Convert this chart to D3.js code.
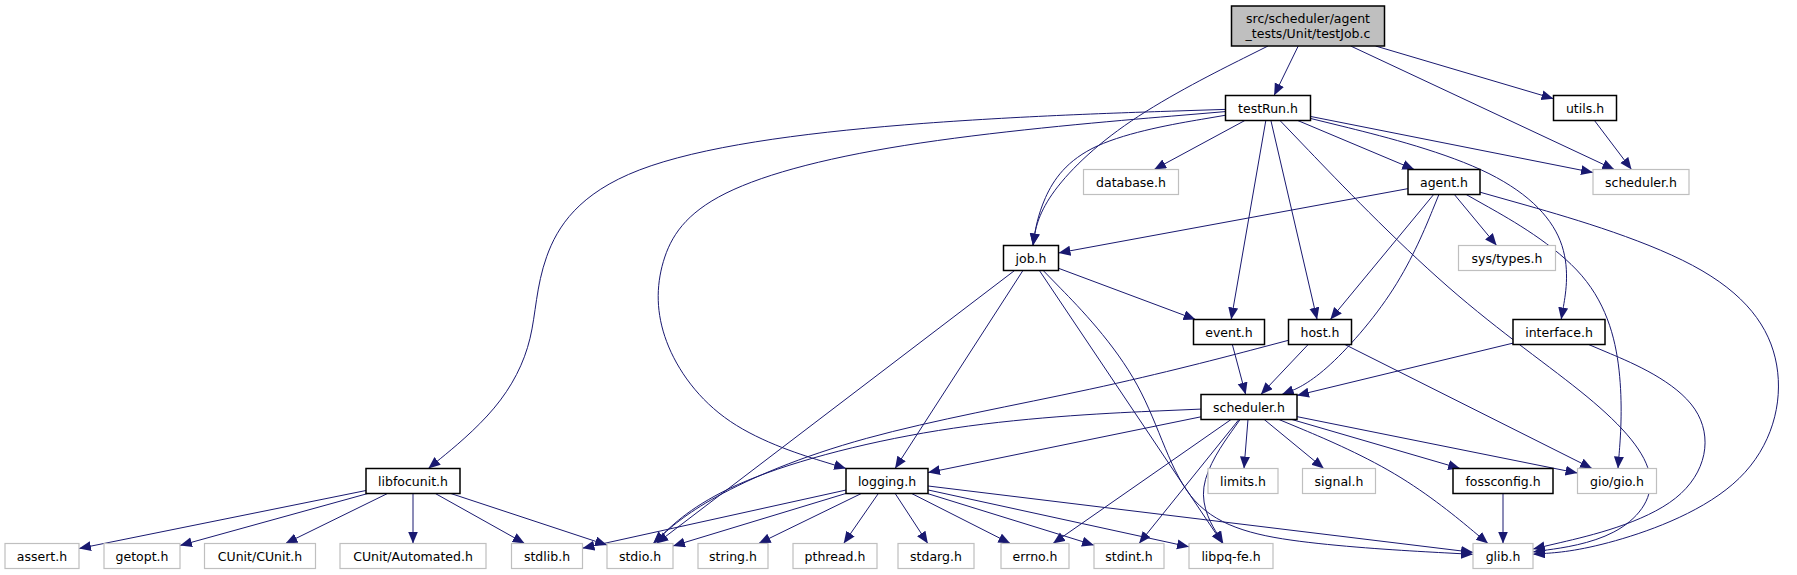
<!DOCTYPE html>
<html>
<head>
<meta charset="utf-8">
<script src="https://cdn.jsdelivr.net/npm/d3@7"></script>
<style>
body { margin: 0; background: #fff; }
text { font-family: "DejaVu Sans", sans-serif; font-size: 12.5px; }
</style>
</head>
<body>
<svg id="chart" width="1797" height="575"></svg>
<script>
// node labels, and which are "external" (gray) headers
var nodeNames = ["src/scheduler/agent\n_tests/Unit/testJob.c", "testRun.h", "utils.h", "database.h", "agent.h",
    "scheduler.h (ext)", "job.h", "sys/types.h", "event.h", "host.h", "interface.h", "scheduler.h",
    "libfocunit.h", "logging.h", "limits.h", "signal.h", "fossconfig.h", "gio/gio.h",
    "assert.h", "getopt.h", "CUnit/CUnit.h", "CUnit/Automated.h", "stdlib.h", "stdio.h", "string.h",
    "pthread.h", "stdarg.h", "errno.h", "stdint.h", "libpq-fe.h", "glib.h"];
var grayNodes = ["scheduler.h (ext)", "database.h", "sys/types.h", "limits.h", "signal.h", "gio/gio.h",
    "assert.h", "getopt.h", "CUnit/CUnit.h", "CUnit/Automated.h", "stdlib.h", "stdio.h", "string.h",
    "pthread.h", "stdarg.h", "errno.h", "stdint.h", "libpq-fe.h", "glib.h"];

// layout: [centre x, centre y, width]
var layout = {
    "src/scheduler/agent\n_tests/Unit/testJob.c": [1308, 26, 153],
    "testRun.h": [1268, 108, 85], "utils.h": [1585, 108, 63],
    "database.h": [1131, 182, 95], "agent.h": [1444, 182, 72], "scheduler.h (ext)": [1641, 182, 96],
    "job.h": [1031, 258, 55], "sys/types.h": [1507, 258, 97],
    "event.h": [1229, 332, 71], "host.h": [1320, 332, 63], "interface.h": [1559, 332, 92],
    "scheduler.h": [1249, 407, 96],
    "libfocunit.h": [413, 481, 94], "logging.h": [887, 481, 82], "limits.h": [1243, 481, 70],
    "signal.h": [1339, 481, 73], "fossconfig.h": [1503, 481, 100], "gio/gio.h": [1617, 481, 79],
    "assert.h": [42, 556, 74], "getopt.h": [142, 556, 76], "CUnit/CUnit.h": [260, 556, 111],
    "CUnit/Automated.h": [413, 556, 146], "stdlib.h": [547, 556, 71], "stdio.h": [640, 556, 66],
    "string.h": [733, 556, 70], "pthread.h": [835, 556, 84], "stdarg.h": [936, 556, 76],
    "errno.h": [1035, 556, 68], "stdint.h": [1129, 556, 70], "libpq-fe.h": [1231, 556, 84],
    "glib.h": [1503, 556, 60]
};

var M = "src/scheduler/agent\n_tests/Unit/testJob.c";
// include edges: [from, to, optional bend points]
var edges = [
    [M, "job.h", [[1120, 120], [1040, 200]]],
    [M, "testRun.h"], [M, "scheduler.h (ext)"], [M, "utils.h"],
    ["utils.h", "scheduler.h (ext)"],
    ["testRun.h", "libfocunit.h", [[900, 120], [600, 160], [536, 260], [536, 340], [500, 410]]],
    ["testRun.h", "logging.h", [[900, 139], [700, 190], [656, 260], [656, 340], [720, 430]]],
    ["testRun.h", "job.h", [[1080, 140], [1040, 200]]],
    ["testRun.h", "database.h"], ["testRun.h", "event.h"], ["testRun.h", "host.h"],
    ["testRun.h", "glib.h", [[1452, 300], [1600, 400], [1670, 480], [1620, 540]]],
    ["testRun.h", "agent.h"], ["testRun.h", "scheduler.h (ext)"],
    ["testRun.h", "interface.h", [[1500, 165], [1575, 240]]],
    ["agent.h", "job.h"], ["agent.h", "host.h"],
    ["agent.h", "scheduler.h", [[1400, 290], [1320, 380]]],
    ["agent.h", "sys/types.h"],
    ["agent.h", "gio/gio.h", [[1600, 270], [1625, 380]]],
    ["agent.h", "glib.h", [[1720, 260], [1795, 360], [1760, 490], [1600, 550]]],
    ["job.h", "event.h"], ["job.h", "logging.h"], ["job.h", "stdio.h"], ["job.h", "libpq-fe.h"],
    ["job.h", "glib.h", [[1150, 380], [1180, 520], [1300, 545]]],
    ["event.h", "scheduler.h"],
    ["host.h", "stdio.h", [[1100, 390], [850, 435], [700, 500]]],
    ["host.h", "scheduler.h"], ["host.h", "gio/gio.h"],
    ["interface.h", "scheduler.h"],
    ["interface.h", "glib.h", [[1720, 400], [1700, 510]]],
    ["scheduler.h", "stdio.h", [[950, 420], [720, 480]]],
    ["scheduler.h", "logging.h"], ["scheduler.h", "errno.h"], ["scheduler.h", "stdint.h"],
    ["scheduler.h", "libpq-fe.h", [[1190, 490]]],
    ["scheduler.h", "limits.h"], ["scheduler.h", "signal.h"], ["scheduler.h", "fossconfig.h"],
    ["scheduler.h", "gio/gio.h"],
    ["scheduler.h", "glib.h", [[1400, 470]]],
    ["fossconfig.h", "glib.h"],
    ["libfocunit.h", "assert.h"], ["libfocunit.h", "getopt.h"], ["libfocunit.h", "CUnit/CUnit.h"],
    ["libfocunit.h", "CUnit/Automated.h"], ["libfocunit.h", "stdlib.h"], ["libfocunit.h", "stdio.h"],
    ["logging.h", "stdlib.h"], ["logging.h", "stdio.h"], ["logging.h", "string.h"],
    ["logging.h", "pthread.h"], ["logging.h", "stdarg.h"], ["logging.h", "errno.h"],
    ["logging.h", "stdint.h"], ["logging.h", "libpq-fe.h"], ["logging.h", "glib.h"]
];

var svg = d3.select("#chart");
var edgeColor = "#191970";

svg.append("defs").append("marker")
    .attr("id", "arrow")
    .attr("markerUnits", "userSpaceOnUse")
    .attr("markerWidth", 14).attr("markerHeight", 12)
    .attr("refX", 12).attr("refY", 5)
    .attr("orient", "auto")
    .append("path")
    .attr("d", "M0,0 L12,5 L0,10 Z")
    .attr("fill", edgeColor);

function box(name) {
    var l = layout[name];
    var h = name === M ? 40 : 25;
    return {x: l[0], y: l[1], w: l[2], h: h};
}

// point where the line from box centre toward p leaves the box
function clip(b, p) {
    var dx = p[0] - b.x, dy = p[1] - b.y;
    var tx = dx === 0 ? Infinity : (b.w / 2) / Math.abs(dx);
    var ty = dy === 0 ? Infinity : (b.h / 2) / Math.abs(dy);
    var t = Math.min(tx, ty);
    return [b.x + dx * t, b.y + dy * t];
}

var line = d3.line().curve(d3.curveBasis);

edges.forEach(function(e) {
    var a = box(e[0]), b = box(e[1]);
    var mids = e[2] || [];
    var first = mids.length ? mids[0] : [b.x, b.y];
    var last = mids.length ? mids[mids.length - 1] : [a.x, a.y];
    var pts = [clip(a, first)].concat(mids, [clip(b, last)]);
    svg.append("path")
        .attr("d", line(pts))
        .attr("fill", "none")
        .attr("stroke", edgeColor)
        .attr("stroke-width", 1)
        .attr("marker-end", "url(#arrow)");
});

var nodes = svg.selectAll("g.node")
    .data(nodeNames)
    .enter()
    .append("g")
    .attr("class", "node");

nodes.append("rect")
    .attr("x", function(d) { var b = box(d); return b.x - b.w / 2; })
    .attr("y", function(d) { var b = box(d); return b.y - b.h / 2; })
    .attr("width", function(d) { return box(d).w; })
    .attr("height", function(d) { return box(d).h; })
    .attr("fill", function(d) { return d === M ? "#bfbfbf" : "#fff"; })
    .attr("stroke", function(d) { return grayNodes.indexOf(d) >= 0 ? "#bfbfbf" : "#000"; })
    .attr("stroke-width", function(d) { return grayNodes.indexOf(d) >= 0 ? 1.2 : 1.5; });

nodes.each(function(d) {
    var b = box(d);
    var lines = d.replace(" (ext)", "").split("\n");
    var t = d3.select(this).append("text")
        .attr("text-anchor", "middle");
    lines.forEach(function(s, i) {
        t.append("tspan")
            .attr("x", b.x)
            .attr("y", b.y + 4.5 + (i - (lines.length - 1) / 2) * 15)
            .text(s);
    });
});
</script>
</body>
</html>
